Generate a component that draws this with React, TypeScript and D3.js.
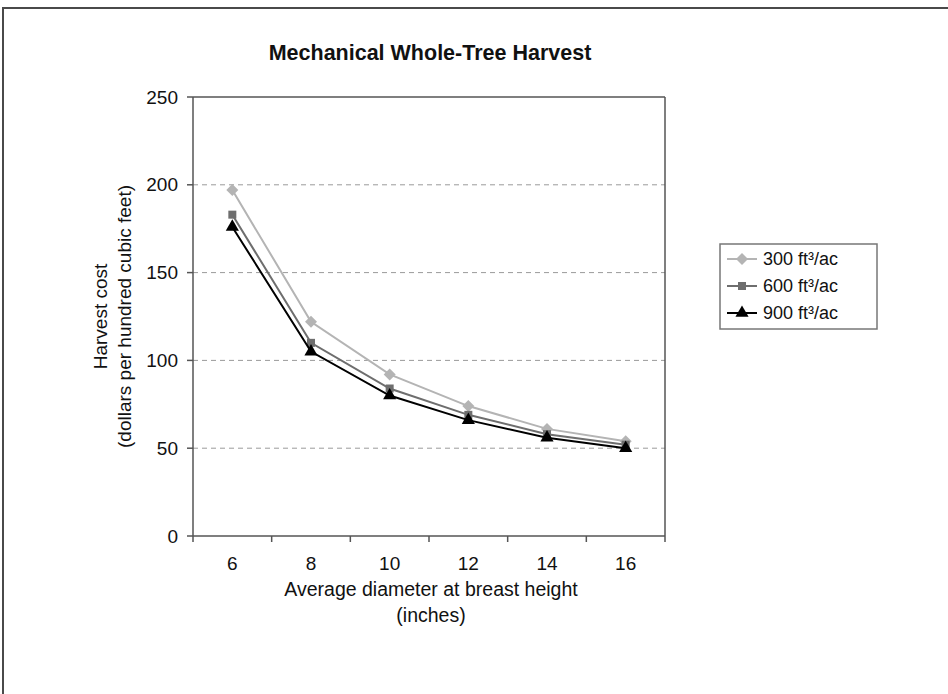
import React from 'react'
import { scaleBand, scaleLinear, line, symbol, symbolSquare, symbolTriangle } from 'd3'

const diameters = [6, 8, 10, 12, 14, 16]
const cost300 = [197, 122, 92, 74, 61, 54]
const cost600 = [183, 110, 84, 69, 58, 52]
const cost900 = [176, 105, 80, 66, 56, 50]
const yTicks = [0, 50, 100, 150, 200, 250]
const seriesNames = ['300 ft³/ac', '600 ft³/ac', '900 ft³/ac']

const W = 948
const H = 694
const margin = { top: 97, right: 283, bottom: 158, left: 193 }
const font = '"Liberation Sans", Arial, sans-serif'

export default function App() {
  const x = scaleBand<number>().domain(diameters).range([margin.left, W - margin.right]).padding(0)
  const y = scaleLinear().domain([0, 250]).range([H - margin.bottom, margin.top])
  const cx = (d: number) => (x(d) as number) + x.bandwidth() / 2

  // diamond = square turned 45 degrees, like the spreadsheet marker
  const series = [
    { name: seriesNames[0], values: cost300, color: '#b4b4b4', shape: symbolSquare, size: 72, rot: 45 },
    { name: seriesNames[1], values: cost600, color: '#6e6e6e', shape: symbolSquare, size: 64, rot: 0 },
    { name: seriesNames[2], values: cost900, color: '#000000', shape: symbolTriangle, size: 75, rot: 0 },
  ]

  const path = line<number>().x((d, i) => cx(diameters[i])).y(d => y(d))
  const x0 = margin.left
  const x1 = W - margin.right
  const yb = y(0)
  const yt = y(250)

  // legend
  const lgX = 720, lgY = 244, lgW = 157, lgH = 85

  return (
    <svg width={W} height={H} style={{ position: 'absolute', left: 0, top: 0, background: '#fff' }} fontFamily={font}>
      <rect x={3} y={8} width={W + 20} height={H + 20} fill="#fff" stroke="#4a4a4a" strokeWidth={2} />

      <text x={430} y={52} dy="0.35em" textAnchor="middle" fontSize={21.5} fontWeight="bold" fill="#111">Mechanical Whole-Tree Harvest</text>

      {/* gridlines */}
      {yTicks.filter(t => t > 0 && t < 250).map(t => (
        <line key={t} x1={x0} x2={x1} y1={y(t)} y2={y(t)} stroke="#9a9a9a" strokeWidth={1} strokeDasharray="5,4" />
      ))}

      {/* plot frame */}
      <line x1={x0} x2={x1} y1={yt} y2={yt} stroke="#555" strokeWidth={1.5} />
      <line x1={x1} x2={x1} y1={yt} y2={yb} stroke="#555" strokeWidth={1.5} />
      <line x1={x0} x2={x0} y1={yt} y2={yb} stroke="#555" strokeWidth={1.5} />
      <line x1={x0} x2={x1} y1={yb} y2={yb} stroke="#555" strokeWidth={1.5} />

      {/* y ticks */}
      {yTicks.map(t => (
        <g key={t}>
          <line x1={x0 - 6} x2={x0} y1={y(t)} y2={y(t)} stroke="#555" strokeWidth={1.5} />
          <text x={x0 - 15} y={y(t)} dy="0.35em" textAnchor="end" fontSize={19} fill="#111">{t}</text>
        </g>
      ))}

      {/* x ticks */}
      {diameters.map(d => (
        <g key={d}>
          <line x1={x(d)} x2={x(d)} y1={yb} y2={yb + 6} stroke="#555" strokeWidth={1.5} />
          <text x={cx(d)} y={yb + 27} dy="0.35em" textAnchor="middle" fontSize={19} fill="#111">{d}</text>
        </g>
      ))}
      <line x1={x1} x2={x1} y1={yb} y2={yb + 6} stroke="#555" strokeWidth={1.5} />

      {/* axis titles */}
      <text x={431} y={589} dy="0.35em" textAnchor="middle" fontSize={19.5} fill="#111">Average diameter at breast height</text>
      <text x={431} y={615} dy="0.35em" textAnchor="middle" fontSize={19.5} fill="#111">(inches)</text>
      <g transform={`translate(100, ${(yt + yb) / 2}) rotate(-90)`}>
        <text x={0} y={0} dy="0.35em" textAnchor="middle" fontSize={19} fill="#111">Harvest cost</text>
        <text x={0} y={24} dy="0.35em" textAnchor="middle" fontSize={19} fill="#111">(dollars per hundred cubic feet)</text>
      </g>

      {/* series */}
      {series.map(s => (
        <g key={s.name}>
          <path d={path(s.values) ?? ''} fill="none" stroke={s.color} strokeWidth={2} />
          {s.values.map((v, i) => (
            <path key={i} d={symbol(s.shape, s.size)() ?? ''} transform={`translate(${cx(diameters[i])},${y(v)}) rotate(${s.rot})`} fill={s.color} />
          ))}
        </g>
      ))}

      {/* legend */}
      <rect x={lgX} y={lgY} width={lgW} height={lgH} fill="#fff" stroke="#777" strokeWidth={1.5} />
      {series.map((s, i) => {
        const ly = lgY + 15 + i * 27
        return (
          <g key={s.name}>
            <line x1={lgX + 7} x2={lgX + 37} y1={ly} y2={ly} stroke={s.color} strokeWidth={2} />
            <path d={symbol(s.shape, s.size)() ?? ''} transform={`translate(${lgX + 22},${ly}) rotate(${s.rot})`} fill={s.color} />
            <text x={lgX + 43} y={ly} dy="0.35em" fontSize={18} fill="#111">{s.name}</text>
          </g>
        )
      })}
    </svg>
  )
}
